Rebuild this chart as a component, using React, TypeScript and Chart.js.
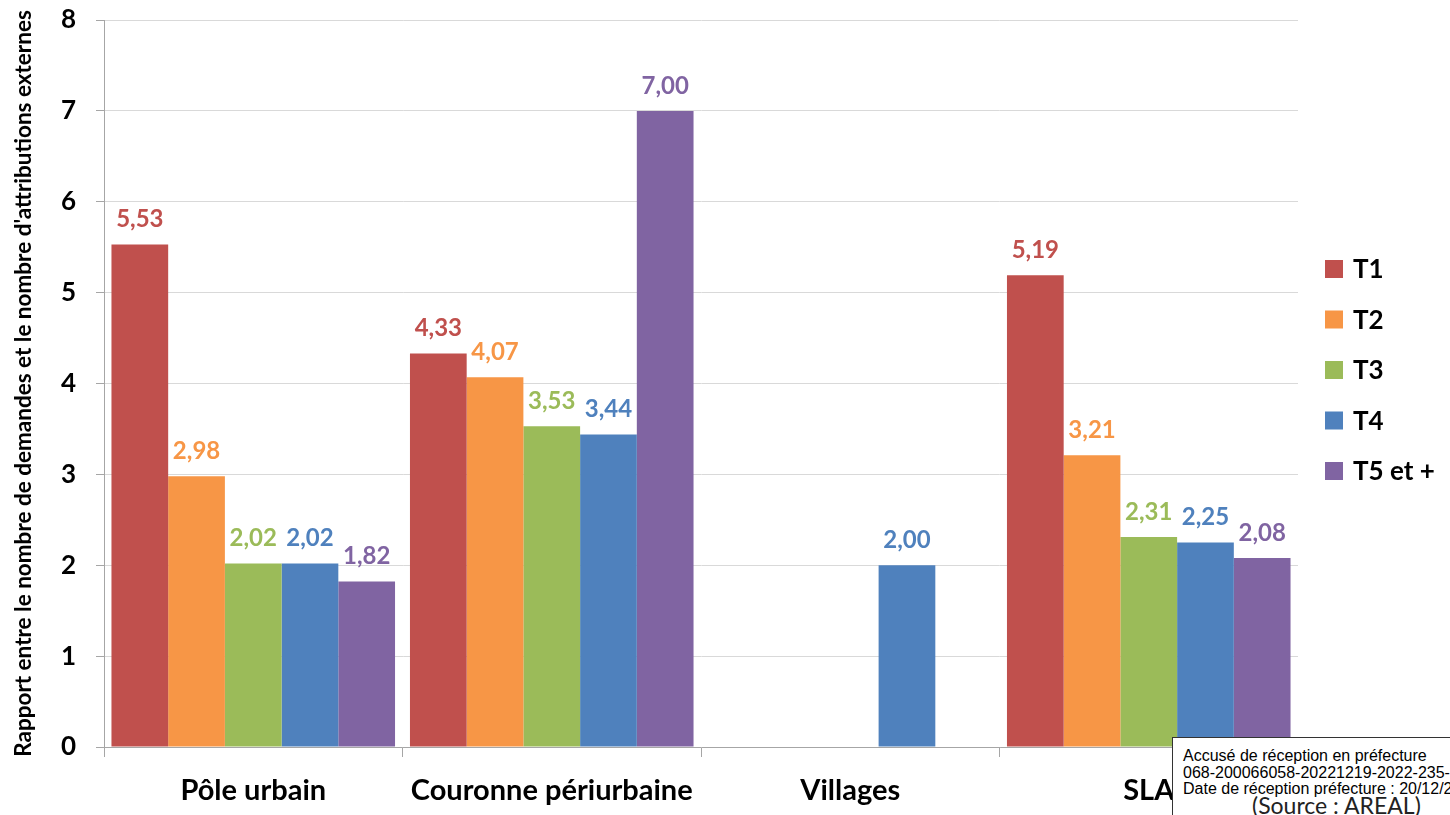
import React, { useEffect, useRef } from "react";
import { Chart, registerables } from "chart.js";

Chart.register(...registerables);

const categories = ["Pôle urbain", "Couronne périurbaine", "Villages", "SLA"];
const seriesNames = ["T1", "T2", "T3", "T4", "T5 et +"];
const t1 = [5.53, 4.33, null, 5.19];
const t2 = [2.98, 4.07, null, 3.21];
const t3 = [2.02, 3.53, null, 2.31];
const t4 = [2.02, 3.44, 2.0, 2.25];
const t5 = [1.82, 7.0, null, 2.08];
const seriesColors = ["#c0504d", "#f79646", "#9bbb59", "#4f81bd", "#8064a2"];
const yTicks = [0, 1, 2, 3, 4, 5, 6, 7, 8];
const yTitle = "Rapport entre le nombre de demandes et le nombre d'attributions externes";
const stampLines = [
  "Accusé de réception en préfecture",
  "068-200066058-20221219-2022-235-",
  "Date de réception préfecture : 20/12/2022",
];
const sourceText = "(Source : AREAL)";

const FONT = "Lato, 'Open Sans', sans-serif";

const labelPlugin = {
  id: "barLabels",
  afterDatasetsDraw(chart: any) {
    const ctx = chart.ctx;
    ctx.save();
    ctx.font = `bold 24px ${FONT}`;
    ctx.textAlign = "center";
    ctx.textBaseline = "bottom";
    chart.data.datasets.forEach((ds: any, i: number) => {
      const meta = chart.getDatasetMeta(i);
      meta.data.forEach((bar: any, j: number) => {
        const v = ds.data[j];
        if (v === null || v === undefined) return;
        ctx.fillStyle = ds.backgroundColor;
        ctx.fillText(v.toFixed(2).replace(".", ","), bar.x, bar.y - 13);
      });
    });
    ctx.restore();
  },
};

const legendPlugin = {
  id: "customLegend",
  afterDraw(chart: any) {
    const ctx = chart.ctx;
    const area = chart.chartArea;
    ctx.save();
    ctx.font = `bold 26px ${FONT}`;
    ctx.textBaseline = "middle";
    ctx.textAlign = "left";
    const n = chart.data.datasets.length;
    const spacing = 50.5;
    const cy = 370;
    chart.data.datasets.forEach((ds: any, i: number) => {
      const y = cy + (i - (n - 1) / 2) * spacing;
      const x = area.right + 27;
      ctx.fillStyle = ds.backgroundColor;
      ctx.fillRect(x, y - 9, 18, 18);
      ctx.fillStyle = "#000";
      ctx.fillText(ds.label, x + 28, y + 1);
    });
    ctx.restore();
  },
};

export default function App() {
  const ref = useRef<HTMLCanvasElement>(null);
  useEffect(() => {
    const all = [t1, t2, t3, t4, t5];
    const chart = new Chart(ref.current!, {
      type: "bar",
      data: {
        labels: categories,
        datasets: seriesNames.map((name, i) => ({
          label: name,
          data: all[i] as any,
          backgroundColor: seriesColors[i],
          borderWidth: 0,
          categoryPercentage: 0.95,
          barPercentage: 1.0,
        })),
      },
      options: {
        animation: false,
        responsive: false,
        maintainAspectRatio: false,
        layout: { padding: { left: 0, top: 20, right: 152, bottom: 0 } },
        plugins: {
          legend: { display: false },
          tooltip: { enabled: false },
        },
        scales: {
          x: {
            afterFit: (s: any) => {
              s.height = 68;
              s.paddingLeft = 0;
              s.paddingRight = 0;
            },
            grid: {
              display: true,
              drawOnChartArea: false,
              offset: true,
              tickLength: 10,
              color: "#a6a6a6",
            },
            border: { display: true, color: "#a6a6a6" },
            ticks: {
              color: "#000",
              font: { family: FONT, size: 29, weight: "bold" },
              padding: 16,
            },
          },
          y: {
            min: 0,
            max: 8,
            afterFit: (s: any) => {
              s.width = 104;
              s.paddingTop = 0;
              s.paddingBottom = 0;
            },
            afterBuildTicks: (s: any) => {
              s.ticks = yTicks.map((v) => ({ value: v }));
            },
            grid: {
              color: "#d9d9d9",
              tickColor: "#a6a6a6",
              tickLength: 8,
            },
            border: { display: true, color: "#a6a6a6" },
            ticks: {
              color: "#000",
              font: { family: FONT, size: 26, weight: "bold" },
              padding: 20,
            },
            title: {
              display: true,
              text: yTitle,
              color: "#000",
              font: { family: FONT, size: 22.5, weight: "bold" },
              padding: { top: 10, bottom: 0 },
            },
          },
        },
      },
      plugins: [labelPlugin, legendPlugin],
    });
    return () => chart.destroy();
  }, []);

  return (
    <div style={{ position: "absolute", left: 0, top: 0, width: 1450, height: 815, overflow: "hidden", background: "#fff" }}>
      <canvas ref={ref} width={1450} height={815} style={{ display: "block" }} />
      <div
        style={{
          position: "absolute",
          left: 1172,
          top: 737,
          width: 300,
          height: 100,
          border: "1.5px solid #333",
          background: "#fff",
          boxSizing: "border-box",
          paddingLeft: 10,
          paddingTop: 10,
          whiteSpace: "nowrap",
        }}
      >
        {stampLines.map((l, i) => (
          <div key={i} style={{ fontFamily: "'Liberation Sans', Arial, sans-serif", fontSize: 16, lineHeight: "16.5px", color: "#000" }}>
            {l}
          </div>
        ))}
        <div style={{ fontFamily: FONT, fontSize: 23, lineHeight: "23px", color: "#222", position: "absolute", left: 79, top: 56 }}>
          {sourceText}
        </div>
      </div>
    </div>
  );
}
